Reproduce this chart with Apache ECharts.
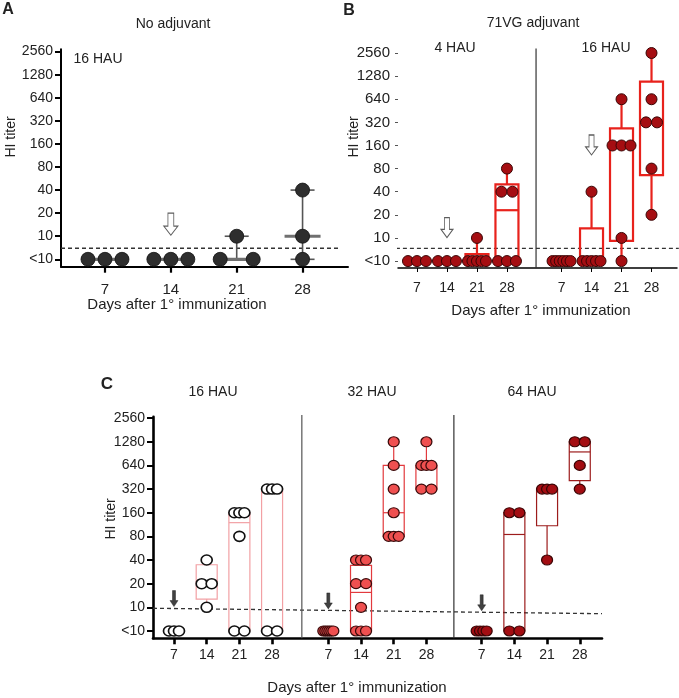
<!DOCTYPE html>
<html><head><meta charset="utf-8">
<script src="https://cdn.jsdelivr.net/npm/echarts@6/dist/echarts.min.js"></script>
<style>html,body{margin:0;padding:0;background:#fff}#c{width:679px;height:698px}</style>
</head><body><div id="c"></div>
<script>
// ---------- data ----------
const yTickLabels = ['<10','10','20','40','80','160','320','640','1280','2560'];
const dayLabels = ['7','14','21','28'];

// Panel A: no adjuvant, 16 HAU. HI titers per animal (<10 stored as 5)
const aTiters = [[5,5,5],[5,5,5],[5,5,10],[5,10,40]];
// median, min, max (titer level: 0 = <10, 1 = 10, 2 = 20 ...)
const aSummary = [[0,0,0],[0,0,0],[0,0,1],[1,0,3]];

// Panel B: 71VG adjuvant
const b4Titers  = [[5,5,5],[5,5,5],[5,5,5,5,5,10],[5,5,5,40,40,80]];
const b16Titers = [[5,5,5,5,5,5],[5,5,5,5,5,40],[5,10,160,160,160,640],[20,80,320,320,640,2560]];
// box stats in titer levels: low, q1, median, q3, high
const b4Boxes  = [null, null, [0,0,0,0.3,1], [0,0,2.2,3.32,4]];
const b16Boxes = [null, [0,0,0,1.41,3], [0,0.87,5,5.74,7], [2,3.72,6,7.76,9]];

// Panel C
const c16Titers = [[5,5,5],[10,20,20,40],[5,5,80,160,160,160],[5,5,320,320,320]];
const c32Titers = [[5,5,5,5,5,5],[5,5,5,10,20,20,40,40,40],[80,80,80,160,320,640,1280],[320,320,640,640,640,1280]];
const c64Titers = [[5,5,5,5],[5,5,160,160],[40,320,320,320],[320,640,1280,1280]];
const c16Boxes = [null, [1,1.35,2,2.8,3], [0,0,4.58,5,5], [0,0,6,6,6]];
const c32Boxes = [null, [0,0,1.63,2.77,3], [4,4,5,7,8], [6,6,7,7,8]];
const c64Boxes = [null, [0,0,4.08,5,5], [3,4.45,6,6,6], [6,6.36,7.57,8,8]];

// detection cut-off (dashed line), in titer levels
const cutoffA = 0.48;
const cutoffB = 0.55;
const cutoffC = [0.96, 0.73];
// immunization arrows: [group, day index, level]
const arrowsA = [[0,1,1.52]];
const arrowsB = [[0,1,1.45],[1,1,5.02]];
const arrowsC = [[0,0,1.37],[1,0,1.27],[2,0,1.19]];

// ---------- layout ----------
const FONT = 'Liberation Sans, Arial, sans-serif';
const startsA = [0];
const startsB = [0, 4.82];
const startsC = [0, 4.72, 9.41];
const levels = yTickLabels.map((_, i) => i);

function lvl(t){ return t < 10 ? 0 : Math.round(Math.log2(t/10)) + 1; }

function dotData(groups, starts, step, maxSpan){
  const out = [];
  groups.forEach((days, g) => {
    days.forEach((titers, d) => {
      const counts = {};
      titers.forEach(t => { const L = lvl(t); counts[L] = (counts[L] || 0) + 1; });
      Object.keys(counts).forEach(L => {
        const n = counts[L];
        const span = n > 1 ? Math.min((n-1)*step, maxSpan) : 0;
        for (let i = 0; i < n; i++){
          const dx = n > 1 ? -span/2 + i*span/(n-1) : 0;
          out.push({value:[starts[g] + d, +L], symbolOffset:[dx, 0]});
        }
      });
    });
  });
  return out;
}
function boxData(groups, starts){
  const out = [];
  groups.forEach((boxes, g) => boxes.forEach((b, d) => { if (b) out.push([starts[g] + d].concat(b)); }));
  return out;
}
function dayPositions(starts){
  const pos = [], lab = [];
  starts.forEach(s => dayLabels.forEach((l, d) => { pos.push(s + d); lab.push(l); }));
  return {pos, lab};
}
function boxRender(halfW, lw, color){
  return function(params, api){
    const x = api.value(0);
    const pLo = api.coord([x, api.value(1)]), pQ1 = api.coord([x, api.value(2)]),
          pMed = api.coord([x, api.value(3)]), pQ3 = api.coord([x, api.value(4)]),
          pHi = api.coord([x, api.value(5)]);
    const cx = pQ1[0];
    const st = {stroke: color, lineWidth: lw, fill: 'none'};
    return {type:'group', children:[
      {type:'rect', shape:{x:cx-halfW, y:pQ3[1], width:2*halfW, height:Math.max(pQ1[1]-pQ3[1],0.01)}, style:st},
      {type:'line', shape:{x1:cx-halfW, y1:pMed[1], x2:cx+halfW, y2:pMed[1]}, style:st},
      {type:'line', shape:{x1:cx, y1:pQ3[1], x2:cx, y2:pHi[1]}, style:st},
      {type:'line', shape:{x1:cx, y1:pLo[1], x2:cx, y2:pQ1[1]}, style:st}
    ]};
  };
}
function summaryRender(params, api){
  const x = api.value(0);
  const pMed = api.coord([x, api.value(1)]), pMin = api.coord([x, api.value(2)]), pMax = api.coord([x, api.value(3)]);
  const cx = pMed[0];
  const thin = {stroke:'#555', lineWidth:1.6};
  return {type:'group', children:[
    {type:'line', shape:{x1:cx, y1:pMin[1], x2:cx, y2:pMax[1]}, style:thin},
    {type:'line', shape:{x1:cx-12, y1:pMin[1], x2:cx+12, y2:pMin[1]}, style:thin},
    {type:'line', shape:{x1:cx-12, y1:pMax[1], x2:cx+12, y2:pMax[1]}, style:thin},
    {type:'line', shape:{x1:cx-18, y1:pMed[1], x2:cx+18, y2:pMed[1]}, style:{stroke:'#707070', lineWidth:3.2}}
  ]};
}

function yAxisOf(gi, min, max, o){
  return {type:'value', gridIndex:gi, min, max, splitLine:{show:false},
    axisLine:{show:o.line, onZero:false, lineStyle:{color:'#000', width:o.lw}},
    axisTick:{show:true, customValues:levels, length:o.tickLen, lineStyle:{color:o.tickColor||'#000', width:o.tickW}},
    axisLabel:{customValues:levels, formatter:v => yTickLabels[Math.round(v)], fontSize:o.fs, color:'#222', fontFamily:FONT, margin:o.margin}};
}
function xAxisOf(gi, min, max, starts, o){
  const dp = dayPositions(starts);
  return {type:'value', gridIndex:gi, min, max, splitLine:{show:false},
    axisLine:{show:true, onZero:false, lineStyle:{color:'#000', width:o.lw}},
    axisTick:{show:true, customValues:dp.pos, length:o.tickLen, lineStyle:{color:'#000', width:o.tickW}},
    axisLabel:{customValues:dp.pos, formatter:v => { const i = dp.pos.findIndex(p => Math.abs(p - v) < 1e-6); return i >= 0 ? dp.lab[i] : ''; },
      fontSize:o.fs, color:'#222', fontFamily:FONT, margin:o.margin}};
}

const openArrow = 'path://M3.5,0 L8.5,0 L8.5,13 L12,13 L6,22 L0,13 L3.5,13 Z';
const solidArrow = 'path://M2.5,0 L5.5,0 L5.5,10 L8,10 L4,16 L0,10 L2.5,10 Z';
function arrowData(arr, starts){ return arr.map(a => [starts[a[0]] + a[1], a[2]]); }

function lineSeries(xi, data, style){
  return {type:'line', xAxisIndex:xi, yAxisIndex:xi, data, symbol:'none', clip:false, silent:true, z:1,
    lineStyle:style, animation:false};
}

const texts = [
  {t:'A', x:8, y:10, fs:16, bold:true},
  {t:'B', x:349, y:11, fs:16, bold:true},
  {t:'C', x:107, y:384, fs:17, bold:true},
  {t:'No adjuvant', x:173, y:24, fs:14},
  {t:'16 HAU', x:98, y:59, fs:14},
  {t:'HI titer', x:11, y:137, fs:14, rot:true},
  {t:'Days after 1° immunization', x:177, y:305, fs:15},
  {t:'71VG adjuvant', x:533, y:23, fs:14},
  {t:'4 HAU', x:455, y:48, fs:14},
  {t:'16 HAU', x:606, y:48, fs:14},
  {t:'HI titer', x:354, y:137, fs:14, rot:true},
  {t:'Days after 1° immunization', x:541, y:311, fs:15},
  {t:'16 HAU', x:213, y:392, fs:14},
  {t:'32 HAU', x:372, y:392, fs:14},
  {t:'64 HAU', x:532, y:392, fs:14},
  {t:'HI titer', x:111, y:519, fs:14, rot:true},
  {t:'Days after 1° immunization', x:357, y:688, fs:15}
];

const option = {
  animation:false,
  backgroundColor:'#fff',
  grid:[
    {left:61, right:331, top:49.3, bottom:431.3, outerBoundsMode:'none'},
    {left:398, right:2, top:50.7, bottom:430, outerBoundsMode:'none'},
    {left:153, right:77, top:416.7, bottom:59.7, outerBoundsMode:'none'}
  ],
  xAxis:[
    xAxisOf(0, -0.668, 3.69, startsA, {lw:2, tickLen:6, tickW:2.2, fs:15, margin:16}),
    xAxisOf(1, -0.633, 8.67, startsB, {lw:1.5, tickLen:4, tickW:1, fs:14, margin:13}),
    xAxisOf(2, -0.642, 13.09, startsC, {lw:2.6, tickLen:6, tickW:2.6, fs:14, margin:10})
  ],
  yAxis:[
    yAxisOf(0, -0.32, 9.1, {line:true, lw:2, tickLen:6, tickW:2, fs:14, margin:8}),
    yAxisOf(1, -0.30, 9.1, {line:false, lw:1, tickLen:3, tickW:1, tickColor:'#555', fs:15, margin:8}),
    yAxisOf(2, -0.31, 9.06, {line:true, lw:2.6, tickLen:6, tickW:2, fs:14, margin:8})
  ],
  graphic: texts.map(s => ({type:'text', x:s.x, y:s.y, rotation: s.rot ? Math.PI/2 : 0, silent:true,
    style:{text:s.t, fontSize:s.fs, fontFamily:FONT, fontWeight:s.bold ? 'bold' : 'normal', fill:'#222',
      align:'center', verticalAlign:'middle', textAlign:'center', textVerticalAlign:'middle'}})),
  series:[
    // separators and cut-off lines
    lineSeries(0, [[-0.668, cutoffA], [3.57, cutoffA]], {color:'#333', width:1.3, type:[4,3]}),
    lineSeries(1, [[-2.57, cutoffB], [8.73, cutoffB]], {color:'#333', width:1.3, type:[4,3]}),
    lineSeries(1, [[3.97, -0.30], [3.97, 9.2]], {color:'#333', width:1.2}),
    lineSeries(2, [[-0.642, cutoffC[0]], [13.09, cutoffC[1]]], {color:'#333', width:1.3, type:[4,3]}),
    lineSeries(2, [[3.91, -0.31], [3.91, 9.13]], {color:'#555', width:1.2}),
    lineSeries(2, [[8.56, -0.31], [8.56, 9.13]], {color:'#333', width:1.2}),
    // summaries / boxes
    {type:'custom', xAxisIndex:0, yAxisIndex:0, z:2, silent:true, renderItem:summaryRender,
      data: aSummary.map((s, d) => [startsA[0] + d].concat(s))},
    {type:'custom', xAxisIndex:1, yAxisIndex:1, z:2, silent:true, renderItem:boxRender(11.5, 2.2, '#e8221c'),
      data: boxData([b4Boxes, b16Boxes], startsB)},
    {type:'custom', xAxisIndex:2, yAxisIndex:2, z:2, silent:true, renderItem:boxRender(10.5, 1.2, '#f2a0a4'),
      data: boxData([c16Boxes], [startsC[0]])},
    {type:'custom', xAxisIndex:2, yAxisIndex:2, z:2, silent:true, renderItem:boxRender(10.5, 1.2, '#e23a3e'),
      data: boxData([c32Boxes], [startsC[1]])},
    {type:'custom', xAxisIndex:2, yAxisIndex:2, z:2, silent:true, renderItem:boxRender(10.5, 1.2, '#9c1c1c'),
      data: boxData([c64Boxes], [startsC[2]])},
    // dots
    {type:'scatter', xAxisIndex:0, yAxisIndex:0, z:3, silent:true, symbol:'circle', symbolSize:14,
      itemStyle:{color:'#2e2e2e', borderColor:'#111', borderWidth:0.8, opacity:1},
      data: dotData([aTiters], startsA, 33, 34)},
    {type:'scatter', xAxisIndex:1, yAxisIndex:1, z:3, silent:true, symbol:'circle', symbolSize:11,
      itemStyle:{color:'#a50e12', borderColor:'#3a0505', borderWidth:1, opacity:1},
      data: dotData([b4Titers, b16Titers], startsB, 11, 18)},
    {type:'scatter', xAxisIndex:2, yAxisIndex:2, z:3, silent:true, symbol:'circle', symbolSize:[11,10],
      itemStyle:{color:'#ffffff', borderColor:'#111', borderWidth:1.6, opacity:1},
      data: dotData([c16Titers], [startsC[0]], 12, 10)},
    {type:'scatter', xAxisIndex:2, yAxisIndex:2, z:3, silent:true, symbol:'circle', symbolSize:[11,10],
      itemStyle:{color:'#ef5050', borderColor:'#3a0a0a', borderWidth:1.2, opacity:1},
      data: dotData([c32Titers], [startsC[1]], 12, 10)},
    {type:'scatter', xAxisIndex:2, yAxisIndex:2, z:3, silent:true, symbol:'circle', symbolSize:[11,10],
      itemStyle:{color:'#a30d12', borderColor:'#3a0505', borderWidth:1.2, opacity:1},
      data: dotData([c64Titers], [startsC[2]], 12, 10)},
    // arrows
    {type:'scatter', xAxisIndex:0, yAxisIndex:0, z:4, silent:true, symbol:openArrow, symbolSize:[14,22],
      itemStyle:{color:'#fff', borderColor:'#333', borderWidth:1}, data: arrowData(arrowsA, startsA)},
    {type:'scatter', xAxisIndex:1, yAxisIndex:1, z:4, silent:true, symbol:openArrow, symbolSize:[12,20],
      itemStyle:{color:'#fff', borderColor:'#333', borderWidth:1}, data: arrowData(arrowsB, startsB)},
    {type:'scatter', xAxisIndex:2, yAxisIndex:2, z:4, silent:true, symbol:solidArrow, symbolSize:[8,16],
      itemStyle:{color:'#111', borderColor:'#111', borderWidth:0.5}, data: arrowData(arrowsC, startsC)}
  ]
};
const chart = echarts.init(document.getElementById('c'), null, {renderer:'canvas'});
chart.setOption(option);
</script>
</body></html>
